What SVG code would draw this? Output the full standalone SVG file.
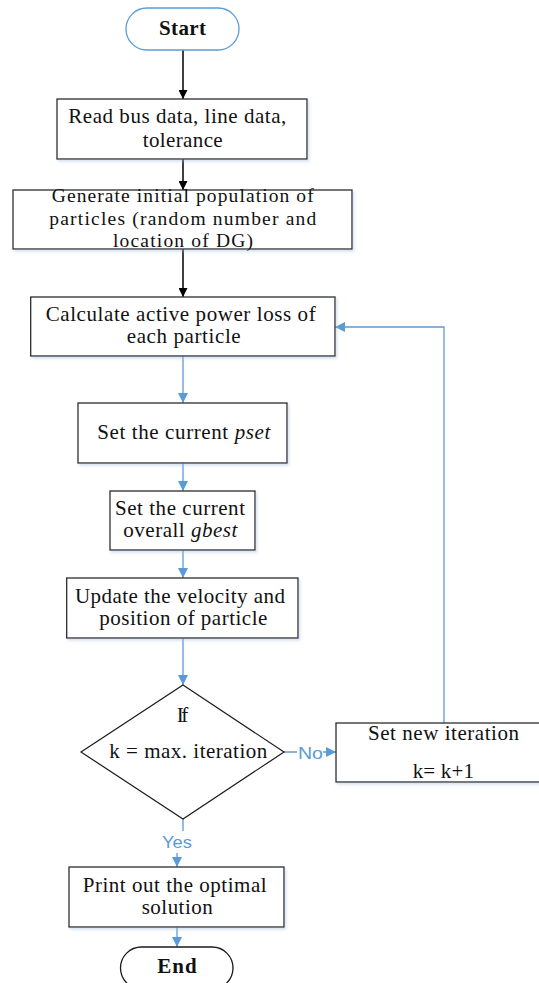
<svg xmlns="http://www.w3.org/2000/svg" width="539" height="983" viewBox="0 0 539 983">
<style>
.t{font-family:"Liberation Serif","Times New Roman",serif;font-size:21px;fill:#111;}
.s{font-size:19.5px;}
.b{font-weight:bold;}
.i{font-style:italic;}
.box{fill:#fff;stroke:#2b2b2b;stroke-width:1.3;filter:url(#sh);}
.term{fill:#fff;stroke-width:1.3;}
.blk{fill:none;stroke:#000;stroke-width:1.5;marker-end:url(#ab);}
.blu{fill:none;stroke:#5B9BD5;stroke-width:1.3;}
.lbl{font-family:"Liberation Sans",Arial,sans-serif;font-size:17px;fill:#5B9BD5;}
</style>
<defs>
<filter id="sh" x="-5%" y="-5%" width="115%" height="130%">
<feDropShadow dx="1.5" dy="2" stdDeviation="1.5" flood-color="#9fb8d8" flood-opacity="0.45"/>
</filter>
<marker id="ab" viewBox="0 0 10 10" refX="10" refY="5" markerUnits="userSpaceOnUse" markerWidth="10" markerHeight="9" orient="auto">
<path d="M0,0 L10,5 L0,10 z" fill="#000"/>
</marker>
<marker id="au" viewBox="0 0 10 10" refX="10" refY="5" markerUnits="userSpaceOnUse" markerWidth="10" markerHeight="11" orient="auto">
<path d="M0,0 L10,5 L0,10 z" fill="#5B9BD5"/>
</marker>
</defs>

<g id="connectors">
<path class="blk" d="M183 50 V99"/>
<path class="blk" d="M183 159 V190"/>
<path class="blk" d="M183 249 V297"/>
<path class="blu" marker-end="url(#au)" d="M183 356 V403"/>
<path class="blu" marker-end="url(#au)" d="M183 463 V491"/>
<path class="blu" marker-end="url(#au)" d="M183 550 V578"/>
<path class="blu" marker-end="url(#au)" d="M183 638 V685"/>
<path class="blu" marker-end="url(#au)" d="M284 752 H336"/>
<path class="blu" marker-end="url(#au)" d="M444 723 V327 H335"/>
<path class="blu" marker-end="url(#au)" d="M183 819 V838 H177 V867"/>
<path class="blu" marker-end="url(#au)" d="M177 927 V947"/>
<rect x="297" y="742" width="26" height="20" fill="#fff"/>
<text class="lbl" x="298" y="759" textLength="25" lengthAdjust="spacingAndGlyphs">No</text>
<rect x="158" y="831" width="38" height="22" fill="#fff"/>
<text class="lbl" x="162" y="848" textLength="30" lengthAdjust="spacingAndGlyphs">Yes</text>
</g>

<g id="start">
<rect class="term" x="126" y="8" width="113" height="42" rx="21" ry="21" stroke="#5B9BD5"/>
<text class="t b" x="159" y="35" textLength="47">Start</text>
</g>

<g id="read-data">
<rect class="box" x="57" y="99" width="250" height="60"/>
<text class="t" x="68.3" y="123.3" textLength="218">Read bus data, line data,</text>
<text class="t" x="142.7" y="146.7" textLength="80">tolerance</text>
</g>

<g id="generate">
<rect class="box" x="13" y="190" width="339" height="59"/>
<text class="t s" x="51.7" y="202.3" textLength="262">Generate initial population of</text>
<text class="t s" x="49.3" y="225" textLength="267">particles (random number and</text>
<text class="t s" x="113" y="246.7" textLength="140">location of DG)</text>
</g>

<g id="calculate">
<rect class="box" x="30.7" y="297" width="304.3" height="59"/>
<text class="t" x="45.7" y="320.7" textLength="270">Calculate active power loss of</text>
<text class="t" x="126.7" y="343" textLength="114">each particle</text>
</g>

<g id="pset">
<rect class="box" x="78" y="403" width="209" height="60"/>
<text class="t" x="97.3" y="439" textLength="173">Set the current <tspan class="i">pset</tspan></text>
</g>

<g id="gbest">
<rect class="box" x="110" y="491" width="145" height="59"/>
<text class="t" x="115" y="515" textLength="130">Set the current</text>
<text class="t" x="123.3" y="537" textLength="114">overall <tspan class="i">gbest</tspan></text>
</g>

<g id="update">
<rect class="box" x="66.7" y="578" width="231.3" height="60"/>
<text class="t" x="75" y="603" textLength="210">Update the velocity and</text>
<text class="t" x="99.3" y="625" textLength="168">position of particle</text>
</g>

<g id="decision">
<path d="M183 685 L284 752 L183 819 L81 752 Z" fill="#fff" stroke="#1a1a1a" stroke-width="1.2"/>
<text class="t" x="176.7" y="721.7" textLength="11.6">If</text>
<text class="t" x="109.3" y="758.3" textLength="158">k = max. iteration</text>
</g>

<g id="new-iteration">
<rect class="box" x="336" y="723" width="216" height="59"/>
<text class="t" x="368" y="740" textLength="151">Set new iteration</text>
<text class="t" x="412.7" y="778" textLength="61.3">k= k+1</text>
</g>

<g id="print">
<rect class="box" x="69" y="867" width="215" height="60"/>
<text class="t" x="82.7" y="891.7" textLength="184">Print out the optimal</text>
<text class="t" x="141.7" y="914.3" textLength="71">solution</text>
</g>

<g id="end">
<rect class="term" x="120.5" y="947" width="112.5" height="42" rx="21" ry="21" stroke="#1a1a1a"/>
<text class="t b" x="157.3" y="973" textLength="39.3">End</text>
</g>
</svg>
